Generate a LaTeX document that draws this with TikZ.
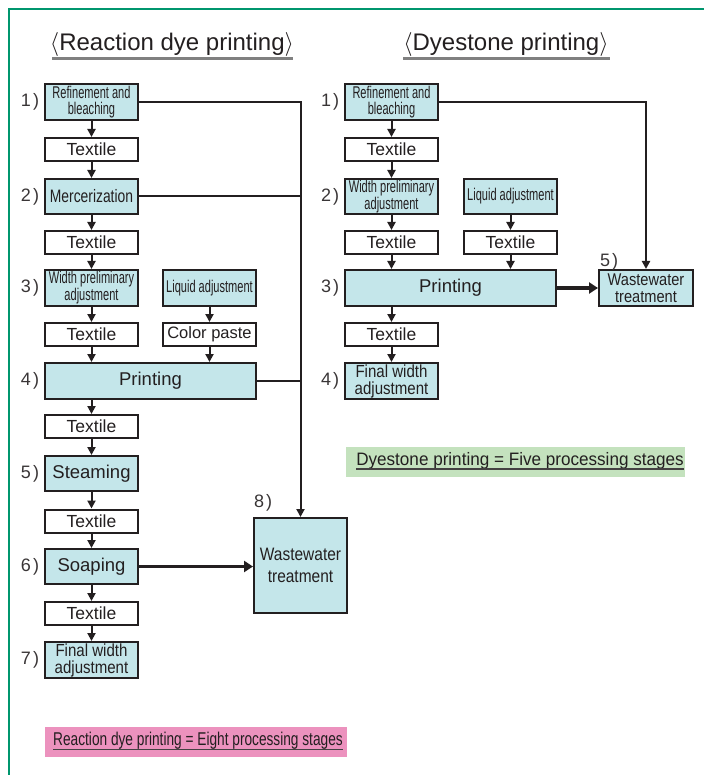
\RequirePackage{fix-cm}
\documentclass[tikz,border=0pt]{standalone}
\usepackage{fontspec}
\setmainfont{Liberation Sans}
\newfontfamily\condA[FakeStretch=0.65]{Liberation Sans}
\newfontfamily\condB[FakeStretch=0.77]{Liberation Sans}
\newfontfamily\condC[FakeStretch=0.86]{Liberation Sans}
\newfontfamily\condD[FakeStretch=0.95]{Liberation Sans}
\newfontfamily\condE[FakeStretch=0.74]{Liberation Sans}
\usetikzlibrary{arrows.meta}
\definecolor{linec}{RGB}{35,31,32}
\definecolor{cyanf}{RGB}{196,230,234}
\definecolor{pinkf}{RGB}{236,146,190}
\definecolor{greenf}{RGB}{196,226,190}
\definecolor{frameg}{RGB}{0,150,110}
\newcommand{\fsz}[2]{\fontsize{#1}{#2}\selectfont}
\tikzset{
  box/.style={draw=linec, line width=2pt, fill=cyanf, inner sep=0pt, align=center, text=linec},
  tbox/.style={box, fill=white, minimum width=93pt, minimum height=23pt, font=\fsz{17.5}{19}},
  arr/.style={line width=2pt, draw=linec, -{Triangle[length=8pt,width=8pt]}},
  bigarr/.style={line width=3.6pt, draw=linec, -{Triangle[length=9pt,width=11pt]}},
  conn/.style={line width=2pt, draw=linec},
  lbl/.style={inner sep=0pt, text=linec!90, font=\fsz{18}{19}},
}
\begin{document}
\begin{tikzpicture}[x=1pt,y=-1pt]
\useasboundingbox (0,0) rectangle (703,775);
% frame
\draw[frameg, line width=2pt] (9,776) -- (9,9.5) -- (704,9.5);
% titles
\node[inner sep=0pt, text=linec, font=\fsz{24}{26}] (ttl) at (172,45) {$\langle$Reaction dye printing$\rangle$};
\draw[gray, line width=2.2pt] (52,58.5) -- (293,58.5);
\node[inner sep=0pt, text=linec, font=\fsz{24}{26}] (ttr) at (506,45) {$\langle$Dyestone printing$\rangle$};
\draw[gray, line width=2.2pt] (403,58.5) -- (610,58.5);

% ---------- left column ----------
\node[box, minimum width=93pt, minimum height=36pt, font=\condA\fsz{17}{15.5}] (L1) at (91.5,102) {Refinement and\\bleaching};
\node[tbox] (LT1) at (91.5,149.5) {Textile};
\node[box, minimum width=93pt, minimum height=35pt, font=\condB\fsz{18}{19}] (L2) at (91.5,196.5) {Mercerization};
\node[tbox] (LT2) at (91.5,242.5) {Textile};
\node[box, minimum width=93pt, minimum height=36pt, font=\condA\fsz{17}{15.5}] (L3) at (91.5,288) {Width preliminary\\adjustment};
\node[tbox] (LT3) at (91.5,334.5) {Textile};
\node[box, minimum width=93pt, minimum height=36pt, font=\condA\fsz{17}{15.5}] (LLQ) at (209.5,288) {Liquid adjustment};
\node[tbox, font=\fsz{16.5}{18}] (LCP) at (209.5,334.5) {Color paste};
\node[box, minimum width=211pt, minimum height=36pt, font=\fsz{18.5}{20}] (L4) at (150.5,381) {Printing};
\node[tbox] (LT4) at (91.5,426.5) {Textile};
\node[box, minimum width=93pt, minimum height=35pt, font=\fsz{18.5}{20}] (L5) at (91.5,473.5) {Steaming};
\node[tbox] (LT5) at (91.5,521) {Textile};
\node[box, minimum width=93pt, minimum height=35pt, font=\fsz{18.5}{20}] (L6) at (91.5,566.5) {Soaping};
\node[tbox] (LT6) at (91.5,613.5) {Textile};
\node[box, minimum width=93pt, minimum height=36pt, font=\condC\fsz{17.5}{17}] (L7) at (91.5,660) {Final width\\adjustment};
\node[box, minimum width=93pt, minimum height=95pt, font=\condC\fsz{18}{22}] (W8) at (300.5,565.5) {Wastewater\\treatment};

\node[lbl] (n1) at (30,102) {1\kern2pt)};
\node[lbl] (n2) at (30,196.5) {2\kern2pt)};
\node[lbl] (n3) at (30,288) {3\kern2pt)};
\node[lbl] (n4) at (30,381) {4\kern2pt)};
\node[lbl] (n5) at (30,473.5) {5\kern2pt)};
\node[lbl] (n6) at (30,566.5) {6\kern2pt)};
\node[lbl] (n7) at (30,660) {7\kern2pt)};
\node[lbl] (n8) at (263,503) {8\kern2pt)};

\draw[arr] (L1) -- (LT1);
\draw[arr] (LT1) -- (L2);
\draw[arr] (L2) -- (LT2);
\draw[arr] (LT2) -- (L3);
\draw[arr] (L3) -- (LT3);
\draw[arr] (LLQ) -- (LCP);
\draw[arr] (LT3.south) -- (LT3.south |- L4.north);
\draw[arr] (LCP.south) -- (LCP.south |- L4.north);
\draw[arr] (LT4.north |- L4.south) -- (LT4.north);
\draw[arr] (LT4) -- (L5);
\draw[arr] (L5) -- (LT5);
\draw[arr] (LT5) -- (L6);
\draw[arr] (L6) -- (LT6);
\draw[arr] (LT6) -- (L7);
\draw[arr] (L1.east) -| (W8.north);
\draw[conn] (L2.east) -- (L2.east -| W8.north);
\draw[conn] (L4.east) -- (L4.east -| W8.north);
\draw[bigarr] (L6.east) -- (L6.east -| W8.west);

% ---------- right column ----------
\node[box, minimum width=93pt, minimum height=36pt, font=\condA\fsz{17}{15.5}] (R1) at (391.5,102) {Refinement and\\bleaching};
\node[tbox] (RT1) at (391.5,149.5) {Textile};
\node[box, minimum width=93pt, minimum height=35pt, font=\condA\fsz{17}{15.5}] (R2) at (391.5,196.5) {Width preliminary\\adjustment};
\node[box, minimum width=93pt, minimum height=35pt, font=\condA\fsz{17}{15.5}] (RLQ) at (510.5,196.5) {Liquid adjustment};
\node[tbox] (RT2) at (391.5,242.5) {Textile};
\node[tbox] (RT2b) at (510.5,242.5) {Textile};
\node[box, minimum width=211pt, minimum height=36pt, font=\fsz{18.5}{20}] (R3) at (450.5,288) {Printing};
\node[tbox] (RT3) at (391.5,334.5) {Textile};
\node[box, minimum width=93pt, minimum height=36pt, font=\condC\fsz{17.5}{17}] (R4) at (391.5,381) {Final width\\adjustment};
\node[box, minimum width=94pt, minimum height=36pt, font=\condC\fsz{17}{16.5}] (W5) at (646,288) {Wastewater\\treatment};

\node[lbl] (m1) at (330,102) {1\kern2pt)};
\node[lbl] (m2) at (330,196.5) {2\kern2pt)};
\node[lbl] (m3) at (330,288) {3\kern2pt)};
\node[lbl] (m4) at (330,381) {4\kern2pt)};
\node[lbl] (m5) at (609,262) {5\kern2pt)};

\draw[arr] (R1) -- (RT1);
\draw[arr] (RT1) -- (R2);
\draw[arr] (R2) -- (RT2);
\draw[arr] (RLQ) -- (RT2b);
\draw[arr] (RT2.south) -- (RT2.south |- R3.north);
\draw[arr] (RT2b.south) -- (RT2b.south |- R3.north);
\draw[arr] (RT3.north |- R3.south) -- (RT3.north);
\draw[arr] (RT3) -- (R4);
\draw[arr] (R1.east) -| (W5.north);
\draw[bigarr] (R3.east) -- (W5.west);

% ---------- banners ----------
\fill[greenf] (346,447) rectangle (685,477);
\node[inner sep=0pt, text=linec, font=\condD\fsz{18}{19}] (gb) at (520,461) {Dyestone printing = Five processing stages};
\draw[linec!85, line width=1.5pt] ([yshift=-3.5pt]gb.base west) -- ([yshift=-3.5pt]gb.base east);
\fill[pinkf] (45,727) rectangle (347,757);
\node[inner sep=0pt, text=linec, font=\condE\fsz{18.5}{19}] (pb) at (198,741) {Reaction dye printing = Eight processing stages};
\draw[linec!85, line width=1.5pt] ([yshift=-3.5pt]pb.base west) -- ([yshift=-3.5pt]pb.base east);
\end{tikzpicture}
\end{document}
